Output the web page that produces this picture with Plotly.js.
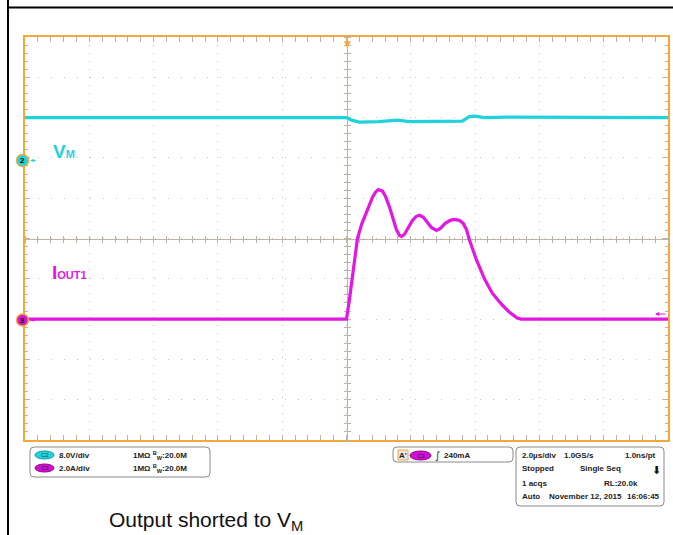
<!DOCTYPE html>
<html>
<head>
<meta charset="utf-8">
<script src="https://cdn.plot.ly/plotly-3.0.1.min.js"></script>
<style>html,body{margin:0;padding:0;background:#fff;}#chart{width:673px;height:535px;}</style>
</head>
<body>
<div id="chart"></div>
<script>
// ---- data ----
// time in microseconds, trigger at t = 0
const timeVm = [-10, 0, 0.16, 0.4, 1.0, 1.58, 1.96, 2.9, 3.6, 3.82, 4.0, 4.29, 5.0, 10];
const vmVolts = [8.0, 8.0, 7.5, 7.1, 7.2, 7.5, 7.2, 7.2, 7.3, 8.2, 8.3, 8.0, 8.1, 8.0];

const timeIout = [-10, 0, 0.09, 0.22, 0.34, 0.47, 0.62, 0.81, 0.90, 0.99, 1.12, 1.21, 1.34, 1.43, 1.55, 1.65, 1.71, 1.80, 1.93, 2.05, 2.17, 2.27, 2.39, 2.52, 2.64, 2.80, 2.92, 3.07, 3.23, 3.35, 3.51, 3.63, 3.73, 3.82, 4.04, 4.29, 4.53, 4.81, 5.06, 5.31, 5.43, 10];
const ioutAmps = [0, 0, 0.95, 2.7, 4.0, 4.7, 5.3, 6.05, 6.3, 6.43, 6.35, 6.1, 5.55, 5.05, 4.45, 4.15, 4.1, 4.2, 4.55, 4.9, 5.1, 5.15, 5.05, 4.8, 4.55, 4.4, 4.5, 4.75, 4.9, 4.95, 4.9, 4.75, 4.45, 3.95, 2.95, 2.0, 1.3, 0.75, 0.35, 0.05, 0, 0];

const channelLabels = ["C2", "C3"];
const channelScales = ["8.0V/div", "2.0A/div"];
const channelBw = ["1MΩ <sup>B</sup><sub>W</sub>:20.0M", "1MΩ <sup>B</sup><sub>W</sub>:20.0M"];
const triggerLevel = "240mA";
const infoRows = [
  ["2.0µs/div", "1.0GS/s", "1.0ns/pt"],
  ["Stopped", "Single Seq", "⬇"],
  ["1 acqs", "", "RL:20.0k"],
  ["Auto", "November 12, 2015", "16:06:45"]
];

// ---- layout geometry helpers (pixels -> paper) ----
const W = 673, H = 535, L = 25, R = 668, T = 37, B = 440;
const px = x => (x - L) / (R - L);
const py = y => (B - y) / (B - T);

const CYAN = '#1fd3dc', MAG = '#e416e4', ORANGE = '#f6a73a';
const GRIDC = '#c4c4c4', TICKC = '#bdb4a4';
const FONT = 'Liberation Sans, Arial, sans-serif';

function rbox(x0, y0, x1, y1, r) {
  const P = (x, y) => px(x) + ',' + py(y);
  return 'M' + P(x0 + r, y0) + ' L' + P(x1 - r, y0) + ' Q' + P(x1, y0) + ' ' + P(x1, y0 + r) +
    ' L' + P(x1, y1 - r) + ' Q' + P(x1, y1) + ' ' + P(x1 - r, y1) +
    ' L' + P(x0 + r, y1) + ' Q' + P(x0, y1) + ' ' + P(x0, y1 - r) +
    ' L' + P(x0, y0 + r) + ' Q' + P(x0, y0) + ' ' + P(x0 + r, y0) + ' Z';
}

const traces = [
  {x: timeVm, y: vmVolts, xaxis: 'x', yaxis: 'y', mode: 'lines',
   line: {color: CYAN, width: 3.2}, hoverinfo: 'skip', showlegend: false},
  {x: timeIout, y: ioutAmps, xaxis: 'x', yaxis: 'y2', mode: 'lines',
   line: {color: MAG, width: 3.2}, hoverinfo: 'skip', showlegend: false},
  {x: [], y: [], xaxis: 'x2', yaxis: 'y3', showlegend: false, hoverinfo: 'skip'},
  {x: [], y: [], xaxis: 'x3', yaxis: 'y4', showlegend: false, hoverinfo: 'skip'}
];

const centerAxisX = side => ({
  overlaying: 'x', anchor: 'free', position: 0.5, side: side,
  range: [-10, 10], tick0: -10, dtick: 2, ticks: 'outside', ticklen: 3, tickcolor: TICKC,
  minor: {dtick: 0.4, ticks: 'outside', ticklen: 3, tickcolor: TICKC, showgrid: false},
  showgrid: false, zeroline: false, showticklabels: false,
  showline: side === 'bottom', linecolor: TICKC, linewidth: 1, layer: 'below traces', fixedrange: true
});
const centerAxisY = side => ({
  overlaying: 'y', anchor: 'free', position: 0.5, side: side,
  range: [-56, 24], tick0: 0, dtick: 8, ticks: 'outside', ticklen: 3, tickcolor: TICKC,
  minor: {dtick: 1.6, ticks: 'outside', ticklen: 3, tickcolor: TICKC, showgrid: false},
  showgrid: false, zeroline: false, showticklabels: false,
  showline: side === 'left', linecolor: TICKC, linewidth: 1, layer: 'below traces', fixedrange: true
});

const shapes = [
  // outer frame lines
  {type: 'line', xref: 'paper', yref: 'paper', x0: px(8), x1: px(8), y0: py(0), y1: py(H), line: {color: '#000', width: 2}},
  {type: 'line', xref: 'paper', yref: 'paper', x0: px(8), x1: px(W), y0: py(7.5), y1: py(7.5), line: {color: '#000', width: 2}},
  // channel box
  {type: 'path', xref: 'paper', yref: 'paper', path: rbox(30, 447, 210, 477, 4), line: {color: '#8a8a8a', width: 1}, fillcolor: '#fff'},
  {type: 'circle', xref: 'paper', yref: 'paper', x0: px(35), x1: px(54), y0: py(451), y1: py(459), fillcolor: CYAN, line: {color: '#159aa2', width: 1}},
  {type: 'circle', xref: 'paper', yref: 'paper', x0: px(35), x1: px(54), y0: py(464), y1: py(472), fillcolor: '#d012d0', line: {color: '#900090', width: 1}},
  // trigger box
  {type: 'path', xref: 'paper', yref: 'paper', path: rbox(393, 447, 513, 462, 4), line: {color: '#8a8a8a', width: 1}, fillcolor: '#fff'},
  {type: 'rect', xref: 'paper', yref: 'paper', x0: px(398), x1: px(408), y0: py(450), y1: py(460), fillcolor: '#e8e8e8', line: {color: ORANGE, width: 1}},
  {type: 'circle', xref: 'paper', yref: 'paper', x0: px(410), x1: px(431), y0: py(451), y1: py(460), fillcolor: '#d012d0', line: {color: '#900090', width: 1}},
  // info box
  {type: 'path', xref: 'paper', yref: 'paper', path: rbox(516, 447, 664, 506, 4), line: {color: '#8a8a8a', width: 1}, fillcolor: '#fff'},
  // channel ground markers
  {type: 'circle', xref: 'paper', yref: 'paper', x0: px(16.5), x1: px(28.5), y0: py(154.5), y1: py(166.5), fillcolor: CYAN, line: {color: ORANGE, width: 1.5}},
  {type: 'circle', xref: 'paper', yref: 'paper', x0: px(16.5), x1: px(28.5), y0: py(314), y1: py(326), fillcolor: '#d416d4', line: {color: ORANGE, width: 1.5}}
];

const ann = (x, y, text, opts) => Object.assign({
  xref: 'paper', yref: 'paper', x: px(x), y: py(y), text: text, showarrow: false,
  xanchor: 'left', yanchor: 'middle', font: {family: FONT, size: 8, color: '#222'}
}, opts || {});

const annotations = [
  ann(51, 151, "<b>V<span style='font-size:11px'>M</span></b>", {font: {family: FONT, size: 19, color: CYAN}}),
  ann(50, 272, "<b>I<span style='font-size:11px'>OUT1</span></b>", {font: {family: FONT, size: 19, color: MAG}}),
  ann(22.5, 160.5, "<b>2</b>", {xanchor: 'center', font: {family: FONT, size: 8, color: '#000'}}),
  ann(22.5, 320, "<b>3</b>", {xanchor: 'center', font: {family: FONT, size: 8, color: '#000'}}),
  {xref: 'paper', yref: 'paper', x: px(36), y: py(160.5), ax: -7, ay: 0, text: '', showarrow: true,
   arrowhead: 2, arrowsize: 0.6, arrowwidth: 1.2, arrowcolor: CYAN},
  {xref: 'paper', yref: 'paper', x: px(36), y: py(320), ax: -7, ay: 0, text: '', showarrow: true,
   arrowhead: 2, arrowsize: 0.6, arrowwidth: 1.2, arrowcolor: MAG},
  {xref: 'paper', yref: 'paper', x: px(655), y: py(314), ax: 12, ay: 0, text: '', showarrow: true,
   arrowhead: 2, arrowsize: 0.7, arrowwidth: 1.2, arrowcolor: MAG},
  ann(347, 37, "▼", {xanchor: 'center', yanchor: 'top', font: {family: 'DejaVu Sans', size: 9, color: ORANGE}}),
  // channel box text
  ann(44.5, 455, channelLabels[0], {xanchor: 'center', font: {family: FONT, size: 6, color: '#0b4d55'}}),
  ann(44.5, 468, channelLabels[1], {xanchor: 'center', font: {family: FONT, size: 6, color: '#4a004a'}}),
  ann(57, 455, '<b>' + channelScales[0] + '</b>'),
  ann(57, 468, '<b>' + channelScales[1] + '</b>'),
  ann(131, 455, '<b>' + channelBw[0] + '</b>'),
  ann(131, 468, '<b>' + channelBw[1] + '</b>'),
  // trigger box text
  ann(403, 455, "<b>A'</b>", {xanchor: 'center', font: {family: FONT, size: 8, color: '#222'}}),
  ann(420.5, 455.5, channelLabels[1], {xanchor: 'center', font: {family: FONT, size: 6, color: '#4a004a'}}),
  ann(433, 455, "∫", {font: {family: 'DejaVu Sans', size: 10, color: '#222'}}),
  ann(442, 455, '<b>' + triggerLevel + '</b>'),
  // info box text
  ann(520, 455, '<b>' + infoRows[0][0] + '</b>'),
  ann(562, 455, '<b>' + infoRows[0][1] + '</b>'),
  ann(658, 455, '<b>' + infoRows[0][2] + '</b>', {xanchor: 'right'}),
  ann(520, 469, '<b>' + infoRows[1][0] + '</b>'),
  ann(578, 469, '<b>' + infoRows[1][1] + '</b>'),
  ann(656, 470, infoRows[1][2], {xanchor: 'center', font: {family: 'DejaVu Sans', size: 11, color: '#111'}}),
  ann(520, 483, '<b>' + infoRows[2][0] + '</b>'),
  ann(640, 483, '<b>' + infoRows[2][2] + '</b>', {xanchor: 'right'}),
  ann(520, 496, '<b>' + infoRows[3][0] + '</b>'),
  ann(547, 496, '<b>' + infoRows[3][1] + '</b>'),
  ann(662, 496, '<b>' + infoRows[3][2] + '</b>', {xanchor: 'right'}),
  // caption
  ann(107, 521, 'Output shorted to V<sub>M</sub>', {font: {family: FONT, size: 21, color: '#111'}})
];

const layout = {
  width: W, height: H,
  margin: {l: L, r: W - R, t: T, b: H - B, pad: 0, autoexpand: false},
  paper_bgcolor: '#fff', plot_bgcolor: '#fff',
  showlegend: false,
  xaxis: {
    range: [-10, 10], tick0: -10, dtick: 2, showticklabels: false,
    showgrid: true, gridcolor: GRIDC, griddash: '1px,7px', gridwidth: 1,
    zeroline: false, showline: true, linecolor: ORANGE, linewidth: 2, mirror: 'allticks',
    ticks: 'inside', ticklen: 5, tickcolor: TICKC,
    minor: {dtick: 0.4, ticks: 'inside', ticklen: 3, tickcolor: TICKC, showgrid: false},
    layer: 'below traces', fixedrange: true
  },
  yaxis: {
    range: [-56, 24], tick0: 0, dtick: 8, showticklabels: false,
    showgrid: true, gridcolor: GRIDC, griddash: '1px,12px', gridwidth: 1,
    zeroline: false, showline: true, linecolor: ORANGE, linewidth: 2, mirror: 'allticks',
    ticks: 'inside', ticklen: 5, tickcolor: TICKC,
    minor: {dtick: 1.6, ticks: 'inside', ticklen: 3, tickcolor: TICKC, showgrid: false},
    layer: 'below traces', fixedrange: true
  },
  yaxis2: {
    overlaying: 'y', range: [-6, 14], showgrid: false, zeroline: false,
    showticklabels: false, showline: false, ticks: '', fixedrange: true
  },
  xaxis2: centerAxisX('bottom'),
  xaxis3: centerAxisX('top'),
  yaxis3: centerAxisY('left'),
  yaxis4: centerAxisY('right'),
  shapes: shapes,
  annotations: annotations
};

Plotly.newPlot('chart', traces, layout, {staticPlot: true, displayModeBar: false});
</script>
</body>
</html>
